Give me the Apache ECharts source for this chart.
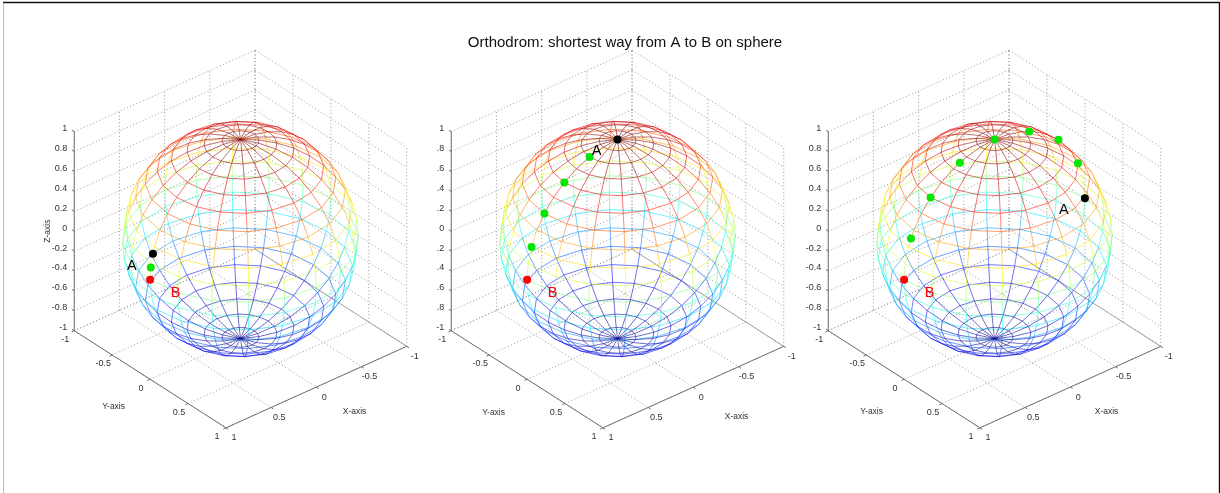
<!DOCTYPE html>
<html>
<head>
<meta charset="utf-8">
<style>html,body{margin:0;padding:0;background:#fff}#chart{width:1220px;height:493px}</style>
<script src="https://cdn.jsdelivr.net/npm/echarts@6/dist/echarts.min.js"></script>
</head>
<body>
<div id="chart"></div>
<script>
const chartTitle = 'Orthodrom: shortest way from A to B on sphere';
const meshLatitudes = [-81,-72,-63,-54,-45,-36,-27,-18,-9,0,9,18,27,36,45,54,63,72,81];
const meshLongitudes = [-180,-162,-144,-126,-108,-90,-72,-54,-36,-18,0,18,36,54,72,90,108,126,144,162];
const meshLatitudeEdges = [-90,-81,-72,-63,-54,-45,-36,-27,-18,-9,0,9,18,27,36,45,54,63,72,81,90];
const jetStops = [0,0.125,0.375,0.625,0.875,1];
const jetRed = [0,0,0,255,255,128];
const jetGreen = [0,0,255,255,0,0];
const jetBlue = [143,255,255,0,0,0];
const xyTicks = [-1,-0.5,0,0.5,1];
const xyTickLabels = ['-1','-0.5','0','0.5','1'];
const zTicks = [-1,-0.8,-0.6,-0.4,-0.2,0,0.2,0.4,0.6,0.8,1];
const zLabelsFull = ['-1','-0.8','-0.6','-0.4','-0.2','0','0.2','0.4','0.6','0.8','1'];
const zLabelsClipped = ['-1','.8','.6','.4','.2','0','.2','.4','.6','.8','1'];
const zLabelsByPanel = [zLabelsFull, zLabelsClipped, zLabelsFull];
const pointAX = [0.969, 0, -1];
const pointAY = [0, 0, 0];
const pointAZ = [0.248, 1, 0];
const pointBX = [1, 1, 1];
const pointBY = [0, 0, 0];
const pointBZ = [0, 0, 0];
const routeX1 = [0.993];
const routeZ1 = [0.12];
const routeX2 = [0.951,0.809,0.588,0.309];
const routeZ2 = [0.309,0.588,0.809,0.951];
const routeX3 = [0.924,0.707,0.383,0,-0.383,-0.707,-0.924];
const routeZ3 = [0.383,0.707,0.924,1,0.924,0.707,0.383];
const routesX = [routeX1, routeX2, routeX3];
const routesZ = [routeZ1, routeZ2, routeZ3];

const FONT = '"Liberation Sans", Arial, sans-serif';
const az = 40 * Math.PI / 180, el = 32.5 * Math.PI / 180, S = 118;
const project = (x, y, z) => [
  S * (-Math.cos(az) * x + Math.sin(az) * y),
  S * (-Math.sin(el) * Math.sin(az) * x - Math.sin(el) * Math.cos(az) * y + Math.cos(el) * z)
];
const jet = z => {
  const t = (z + 1) / 2;
  let i = 0;
  while (i < jetStops.length - 2 && t > jetStops[i + 1]) i++;
  const f = (t - jetStops[i]) / (jetStops[i + 1] - jetStops[i]);
  const m = a => Math.round(a[i] + (a[i + 1] - a[i]) * f);
  return `rgb(${m(jetRed)},${m(jetGreen)},${m(jetBlue)})`;
};
const rad = d => d * Math.PI / 180;
const spherePoint = (lat, lon) => [Math.cos(rad(lat)) * Math.cos(rad(lon)), Math.cos(rad(lat)) * Math.sin(rad(lon)), Math.sin(rad(lat))];

// mesh segments
const meshSegments = [];
const addSeg = (a, b) => meshSegments.push({a: project(...a), b: project(...b), color: jet((a[2] + b[2]) / 2)});
meshLatitudes.forEach(lat => meshLongitudes.forEach((lon, i) => {
  addSeg(spherePoint(lat, lon), spherePoint(lat, meshLongitudes[(i + 1) % meshLongitudes.length] + (i === meshLongitudes.length - 1 ? 360 : 0)));
}));
meshLongitudes.forEach(lon => meshLatitudeEdges.slice(0, -1).forEach((lat, i) => {
  addSeg(spherePoint(lat, lon), spherePoint(meshLatitudeEdges[i + 1], lon));
}));

// box
const boxDotted = [], boxSolid = [];
const seg = (list, a, b) => list.push({a: project(...a), b: project(...b)});
xyTicks.forEach(t => {
  seg(boxDotted, [t, -1, -1], [t, 1, -1]);
  seg(boxDotted, [-1, t, -1], [1, t, -1]);
  seg(boxDotted, [t, -1, -1], [t, -1, 1]);
  seg(boxDotted, [-1, t, -1], [-1, t, 1]);
  seg(boxSolid, [t, 1, -1], [t, 1.03, -1]);
  seg(boxSolid, [1, t, -1], [1.03, t, -1]);
});
zTicks.forEach(t => {
  seg(boxDotted, [1, -1, t], [-1, -1, t]);
  seg(boxDotted, [-1, -1, t], [-1, 1, t]);
  seg(boxSolid, [1, -1, t], [1, -1.03, t]);
});
seg(boxSolid, [1, -1, -1], [1, -1, 1]);
seg(boxSolid, [1, -1, -1], [1, 1, -1]);
seg(boxSolid, [1, 1, -1], [-1, 1, -1]);
const boxEdge = [];
seg(boxEdge, [-1, -1, -1], [-1, 1, -1]);

const yAxisNameNudge = [[-35, 28], [-32, 34], [-31, 33]];
const xAxisNameNudge = [[40, 24], [45, 29], [38, 24]];

const lineSeries = (grid, list, style, z) => ({
  type: 'custom', xAxisIndex: grid, yAxisIndex: grid, z, silent: true, animation: false, clip: false,
  encode: {x: 0, y: 1},
  data: list.map(s => [s.a[0], s.a[1], s.b[0], s.b[1]]),
  renderItem: (p, api) => {
    const s = list[p.dataIndex];
    const a = api.coord(s.a), b = api.coord(s.b);
    return {type: 'line', shape: {x1: a[0], y1: a[1], x2: b[0], y2: b[1]},
      style: Object.assign({stroke: s.color || '#000', fill: null}, style)};
  }
});
const textSeries = (grid, list) => ({
  type: 'custom', xAxisIndex: grid, yAxisIndex: grid, z: 9, silent: true, animation: false, clip: false,
  encode: {x: 0, y: 1},
  data: list.map(t => [t.pos[0], t.pos[1]]),
  renderItem: (p, api) => {
    const t = list[p.dataIndex];
    const c = api.coord(t.pos);
    return {type: 'text', x: c[0] + (t.dx || 0), y: c[1] + (t.dy || 0), rotation: t.rot || 0,
      style: {text: t.text, fill: t.color || '#333', fontSize: t.size || 9, fontFamily: FONT,
        align: t.align || 'center', verticalAlign: 'middle'}};
  }
});
const pointSeries = (grid, xs, ys, zs, color, size) => ({
  type: 'scatter', xAxisIndex: grid, yAxisIndex: grid, z: 8, silent: true, animation: false, clip: false,
  symbol: 'circle', symbolSize: size, itemStyle: {color, opacity: 1},
  data: xs.map((x, i) => project(x, ys[i], zs[i]))
});

const grids = [], xAxes = [], yAxes = [], series = [];
[0, 1, 2].forEach(k => {
  const cx = 240.5 + 377 * k, cy = 239, half = 200;
  grids.push({left: cx - half, top: cy - half, width: half * 2, height: half * 2, show: false});
  const ax = {type: 'value', min: -half, max: half, show: false, gridIndex: k};
  xAxes.push(Object.assign({}, ax));
  yAxes.push(Object.assign({}, ax));
  series.push(lineSeries(k, boxDotted, {stroke: '#9a9a9a', lineWidth: 1, lineDash: [1, 2.4]}, 1));
  series.push(lineSeries(k, boxEdge, {stroke: '#a8a8a8', lineWidth: 1}, 1));
  series.push(lineSeries(k, boxSolid, {stroke: '#707070', lineWidth: 1}, 2));
  series.push(lineSeries(k, meshSegments, {lineWidth: 1, opacity: 0.56}, 3));
  series.push(pointSeries(k, routesX[k], routesX[k].map(() => 0), routesZ[k], '#05e605', 8));
  series.push(pointSeries(k, [pointBX[k]], [pointBY[k]], [pointBZ[k]], '#ff0000', 8));
  series.push(pointSeries(k, [pointAX[k]], [pointAY[k]], [pointAZ[k]], '#000000', 8));
  const texts = [];
  zTicks.forEach((t, i) => texts.push({pos: project(1, -1, t), dx: -7, dy: -3, align: 'right', text: zLabelsByPanel[k][i]}));
  xyTicks.forEach((t, i) => {
    texts.push({pos: project(1, t, -1), dx: -9, dy: 9, text: xyTickLabels[i]});
    texts.push({pos: project(t, 1, -1), dx: 8, dy: 10, text: xyTickLabels[i]});
  });
  texts.push({pos: project(1, -0.02, -1), dx: yAxisNameNudge[k][0], dy: yAxisNameNudge[k][1], text: 'Y-axis', size: 8.5});
  texts.push({pos: project(0.02, 1, -1), dx: xAxisNameNudge[k][0], dy: xAxisNameNudge[k][1], text: 'X-axis', size: 8.5});
  if (k === 0) texts.push({pos: project(1, -1, 0), dx: -27, dy: 0, rot: Math.PI / 2, text: 'Z-axis', size: 8.5});
  texts.push({pos: project(pointAX[k], pointAY[k], pointAZ[k]), dx: -21, dy: 12, text: 'A', size: 14.5, color: '#000'});
  texts.push({pos: project(pointBX[k], pointBY[k], pointBZ[k]), dx: 25.5, dy: 13, text: 'B', size: 14.5, color: '#ff0000'});
  series.push(textSeries(k, texts));
});

const chart = echarts.init(document.getElementById('chart'), null, {renderer: 'canvas'});
chart.setOption({
  animation: false,
  backgroundColor: '#ffffff',
  title: {text: chartTitle, left: 620, top: 30, textAlign: 'center',
    textStyle: {fontFamily: FONT, fontSize: 15, fontWeight: 'normal', color: '#111'}},
  grid: grids, xAxis: xAxes, yAxis: yAxes, series,
  graphic: [
    {type: 'line', shape: {x1: 3, y1: 2.5, x2: 1219.5, y2: 2.5}, style: {stroke: '#111', lineWidth: 1.4}, silent: true},
    {type: 'line', shape: {x1: 1219.5, y1: 2, x2: 1219.5, y2: 493}, style: {stroke: '#111', lineWidth: 1.4}, silent: true},
    {type: 'line', shape: {x1: 3.5, y1: 3, x2: 3.5, y2: 493}, style: {stroke: '#bdbdbd', lineWidth: 1}, silent: true}
  ]
});
</script>
</body>
</html>
